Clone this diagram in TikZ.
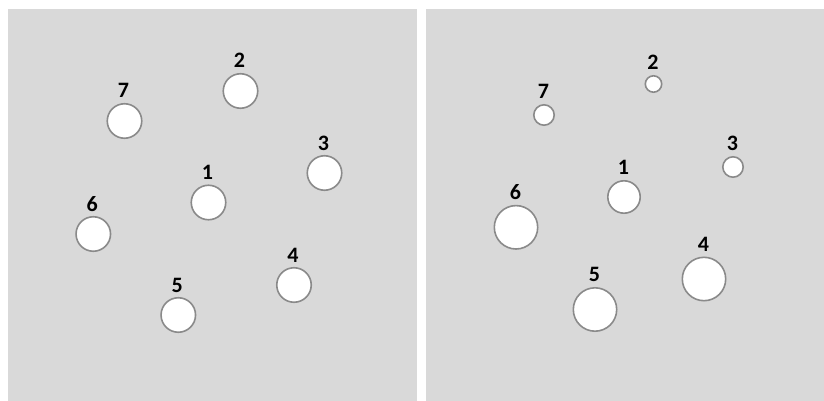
\documentclass[tikz,border=0pt]{standalone}
\usepackage{fontspec}
\setmainfont{Carlito}
\begin{document}
\begin{tikzpicture}[x=1pt,y=-1pt,
  panel/.style={fill=panelgray,draw=none},
  dot/.style={circle,draw=ringgray,line width=1.6pt,fill=white,inner sep=0pt,minimum size=#1},
  num/.style={anchor=base,inner sep=0pt,font=\bfseries\fontsize{22}{22}\selectfont}]
\definecolor{panelgray}{HTML}{D9D9D9}
\definecolor{ringgray}{HTML}{8A8A8A}
\useasboundingbox[fill=white] (0,0) rectangle (824,401);
\fill[panelgray] (7.5,9.5) rectangle (416.5,401);
\fill[panelgray] (425.5,9.5) rectangle (824,401);
% left panel
\foreach \n/\x/\y in {1/208.5/202.5, 2/240.5/91, 3/324.5/173, 4/294/285, 5/178.3/315, 6/93.3/234, 7/124.5/121}{
  \node[dot=34.5pt] (L\n) at (\x,\y) {};
  \node[num] (LT\n) at (\x-1,\y-23) {\n};
}
% right panel
\foreach \n/\x/\y/\r in {1/624/197/17, 2/653.5/84/9, 3/733/167/11, 4/704/279/22.5, 5/595/309.5/22.5, 6/516/227.3/22.5, 7/544/115/11}{
  \node[dot=2*\r pt-1.6pt] (R\n) at (\x,\y) {};
  \node[num] (RT\n) at (\x-0.5,\y-\r-5.5) {\n};
}
\end{tikzpicture}
\end{document}
